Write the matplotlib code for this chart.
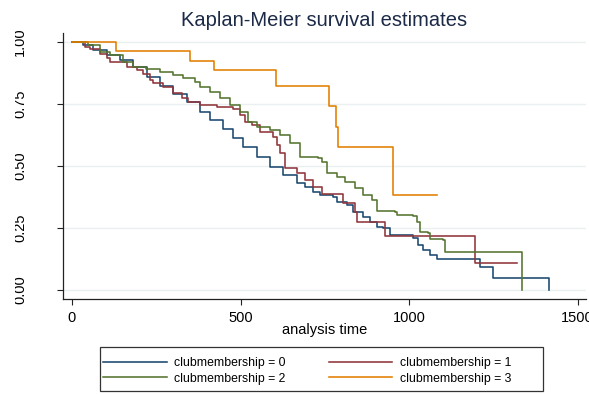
import matplotlib
matplotlib.use("Agg")
import matplotlib.pyplot as plt
from matplotlib.patches import Rectangle
from matplotlib.transforms import Bbox, TransformedBbox
from matplotlib.lines import Line2D

# ---- data ----
t0 = [0, 33.5, 63, 103, 142, 182, 222, 261, 301, 340, 380, 409, 449, 479, 508,
      548, 588, 627, 667, 691, 716, 736, 775, 785, 815, 835, 864, 884, 904, 924,
      944, 1013, 1028, 1042, 1062, 1082, 1211, 1248, 1415]
s0 = [1.0, 0.988, 0.968, 0.948, 0.927, 0.900, 0.859, 0.823, 0.790, 0.759, 0.718,
      0.685, 0.649, 0.613, 0.577, 0.536, 0.497, 0.464, 0.433, 0.417, 0.396, 0.383,
      0.376, 0.356, 0.343, 0.316, 0.296, 0.275, 0.255, 0.249, 0.222, 0.208, 0.181,
      0.161, 0.141, 0.125, 0.094, 0.047, 0.0]

t1 = [0, 38.6, 53, 83, 103, 113, 162, 192, 212, 231, 241, 271, 301, 326, 344,
      380, 429, 479, 499, 513, 533, 558, 597, 607, 617, 632, 667, 691, 716, 741,
      805, 840, 845, 929, 1196, 1321]
s1 = [1.0, 0.981, 0.971, 0.952, 0.934, 0.920, 0.900, 0.887, 0.871, 0.847, 0.833,
      0.817, 0.796, 0.773, 0.756, 0.746, 0.738, 0.729, 0.706, 0.679, 0.665, 0.638,
      0.618, 0.585, 0.551, 0.491, 0.471, 0.444, 0.417, 0.387, 0.350, 0.316, 0.275,
      0.218, 0.110, 0.110]

t2 = [0, 47.5, 83, 112, 151, 181, 220, 260, 300, 329, 364, 380, 409, 439, 469,
      499, 523, 548, 588, 617, 647, 677, 731, 741, 756, 785, 810, 840, 864, 889,
      904, 958, 963, 1013, 1023, 1033, 1057, 1062, 1102, 1107, 1334]
s2 = [1.0, 0.988, 0.961, 0.948, 0.921, 0.900, 0.890, 0.880, 0.867, 0.856, 0.840,
      0.820, 0.800, 0.773, 0.746, 0.719, 0.679, 0.658, 0.645, 0.625, 0.592, 0.538,
      0.531, 0.517, 0.471, 0.457, 0.437, 0.410, 0.383, 0.363, 0.320, 0.316, 0.302,
      0.298, 0.275, 0.235, 0.231, 0.204, 0.202, 0.154, 0.0]

t3 = [0, 131, 351, 422, 605, 762, 782, 788, 951, 1082]
s3 = [1.0, 0.964, 0.925, 0.886, 0.823, 0.742, 0.659, 0.575, 0.383, 0.383]

labels = ["clubmembership = 0", "clubmembership = 1",
          "clubmembership = 2", "clubmembership = 3"]
colors = ["#1a476f", "#90353b", "#55752f", "#e37e00"]
xticks = [0, 500, 1000, 1500]
yticks = [0.0, 0.25, 0.5, 0.75, 1.0]
yticklabels = ["0.00", "0.25", "0.50", "0.75", "1.00"]

plt.rcParams['font.family'] = ['Liberation Sans', 'DejaVu Sans']

W, H = 589, 394
fig = plt.figure(figsize=(W / 100, H / 100), dpi=100)
ax = fig.add_axes([63 / W, 1 - 299 / H, (586 - 63) / W, (299 - 33) / H])

for y in yticks:
    ax.axhline(y, color="#eaf0f2", lw=1.0, zorder=0)

series = [(t0, s0), (t1, s1), (t2, s2), (t3, s3)]
for (t, s), c, lab in zip(series, colors, labels):
    ax.step(t, s, where="post", color=c, lw=1.15, label=lab, zorder=2)

ax.set_xlim(-26.7, 1525)
ax.set_ylim(-0.036, 1.036)
ax.spines['top'].set_visible(False)
ax.spines['right'].set_visible(False)
for sp in ('left', 'bottom'):
    ax.spines[sp].set_color("#222222")
    ax.spines[sp].set_linewidth(0.9)

ax.set_xticks(xticks)
ax.set_xticklabels([str(x) for x in xticks])
ax.set_yticks(yticks)
ax.set_yticklabels(yticklabels, rotation=90, va='center')
ax.tick_params(axis='both', direction='out', length=4, width=0.8,
               color="#222222", labelsize=10.5)
ax.tick_params(axis='x', pad=5)
ax.tick_params(axis='y', pad=22)

clip = TransformedBbox(Bbox.from_extents(15 / W, 0, 1, 1), fig.transFigure)
for tk in ax.yaxis.get_major_ticks():
    tk.label1.set_clip_on(True)
    tk.label1.set_clip_box(clip)

ax.set_xlabel("analysis time", fontsize=10.5, labelpad=-1.5)
ax.set_title("Kaplan-Meier survival estimates", fontsize=14.5,
             color="#1c2a48", pad=5)

# legend (row-wise order like the reference: 0 | 1 on row 1, 2 | 3 on row 2)
order = [0, 2, 1, 3]
handles = [Line2D([], [], color=colors[i], lw=1.15) for i in order]
fig.legend(handles, [labels[i] for i in order], ncol=2, loc='upper left',
           bbox_to_anchor=(103 / W, 1 - 357 / H), frameon=False,
           fontsize=8.8, handlelength=5.2, handletextpad=0.65,
           columnspacing=3.5, borderpad=0, borderaxespad=0,
           labelspacing=0.3)
fig.patches.append(Rectangle((100 / W, 1 - 391 / H), 443 / W, 44 / H,
                             transform=fig.transFigure, fill=False,
                             edgecolor="#333333", lw=0.9))

fig.savefig("out.png", dpi=100)
